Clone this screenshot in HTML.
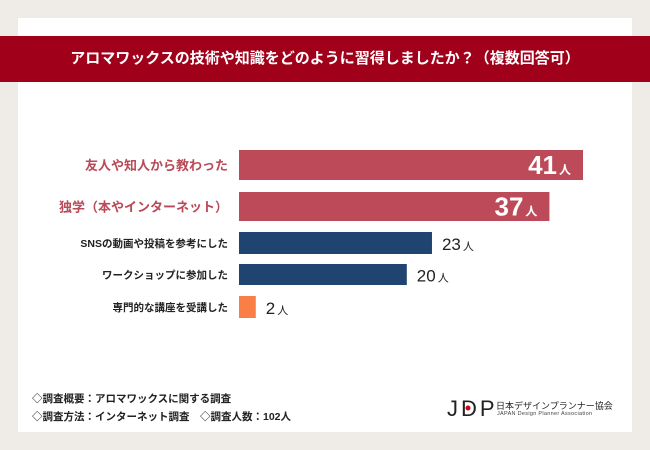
<!DOCTYPE html>
<html><head><meta charset="utf-8"><style>
body{margin:0;width:650px;height:450px;background:#efece8;font-family:"Liberation Sans","Noto Sans CJK JP",sans-serif;position:relative;overflow:hidden}
.card{position:absolute;left:18px;top:18px;width:614px;height:414px;background:#fff}
.banner{position:absolute;left:0;top:36px;width:650px;height:46px;background:#a0001a;color:#fff;font-weight:bold;font-size:15px;line-height:46px;text-align:center}
.foot{position:absolute;left:32px;font-size:10.5px;color:#222;font-weight:bold}
</style></head><body>
<div class="card"></div>
<div class="banner">アロマワックスの技術や知識をどのように習得しましたか？（複数回答可）</div>
<svg id="chart" width="650" height="450" style="position:absolute;left:0;top:0"></svg>
<div class="foot" style="top:391px">◇調査概要：アロマワックスに関する調査</div>
<div class="foot" style="top:409px">◇調査方法：インターネット調査　◇調査人数：102人</div>
<div style="position:absolute;left:447px;top:396px;font-size:22px;letter-spacing:3px;color:#222">JDP</div>
<div style="position:absolute;left:496px;top:399px;font-size:9px;color:#222">日本デザインプランナー協会</div>
<div style="position:absolute;left:497px;top:411px;font-size:5.5px;color:#444;letter-spacing:0.3px">JAPAN Design Planner Association</div>
<script>
const categories=["友人や知人から教わった","独学（本やインターネット）","SNSの動画や投稿を参考にした","ワークショップに参加した","専門的な講座を受講した"];
const values=[41,37,23,20,2];
const colors=["#bd4a58","#bd4a58","#1f4470","#1f4470","#f97f46"];
const rows=[{y:150,h:30},{y:192,h:29},{y:232,h:22},{y:264,h:21},{y:296,h:22}];
const svg=document.getElementById('chart');const NS='http://www.w3.org/2000/svg';
const x0=239,scale=344/41;
function xs(v){return v*scale;}
categories.forEach((c,i)=>{
 const r=rows[i],w=xs(values[i]),big=i<2,cy=r.y+r.h/2;
 const rect=document.createElementNS(NS,'rect');
 rect.setAttribute('x',x0);rect.setAttribute('y',r.y);rect.setAttribute('width',w);rect.setAttribute('height',r.h);rect.setAttribute('fill',colors[i]);
 
 
 svg.appendChild(rect);
 const t=document.createElementNS(NS,'text');
 t.setAttribute('x',228);t.setAttribute('y',cy+(big?5:4));t.setAttribute('text-anchor','end');
 t.setAttribute('font-size',big?13:10.5);t.setAttribute('font-weight','bold');t.setAttribute('fill',big?'#b94a57':'#222');
 t.textContent=c;
 
 
 svg.appendChild(t);
 const v=document.createElementNS(NS,'text');
 if(big){v.setAttribute('x',x0+w-12);v.setAttribute('text-anchor','end');v.setAttribute('fill','#fff');v.setAttribute('y',cy+9);}
 else{v.setAttribute('x',x0+w+10);v.setAttribute('fill','#222');v.setAttribute('y',cy+7);}
 const n=document.createElementNS(NS,'tspan');n.setAttribute('font-size',big?26:17);n.setAttribute('font-weight',big?'bold':'normal');n.textContent=values[i];
 const u=document.createElementNS(NS,'tspan');u.setAttribute('font-size',big?12:11);u.setAttribute('font-weight',big?'bold':'normal');u.setAttribute('dx',2);u.textContent='人';
 v.appendChild(n);v.appendChild(u);
 
 
 svg.appendChild(v);
});
const dot=document.createElementNS(NS,'circle');
dot.setAttribute('cx',468);dot.setAttribute('cy',408);dot.setAttribute('r',2.5);dot.setAttribute('fill','#d0021b');


svg.appendChild(dot);
</script>
</body></html>
